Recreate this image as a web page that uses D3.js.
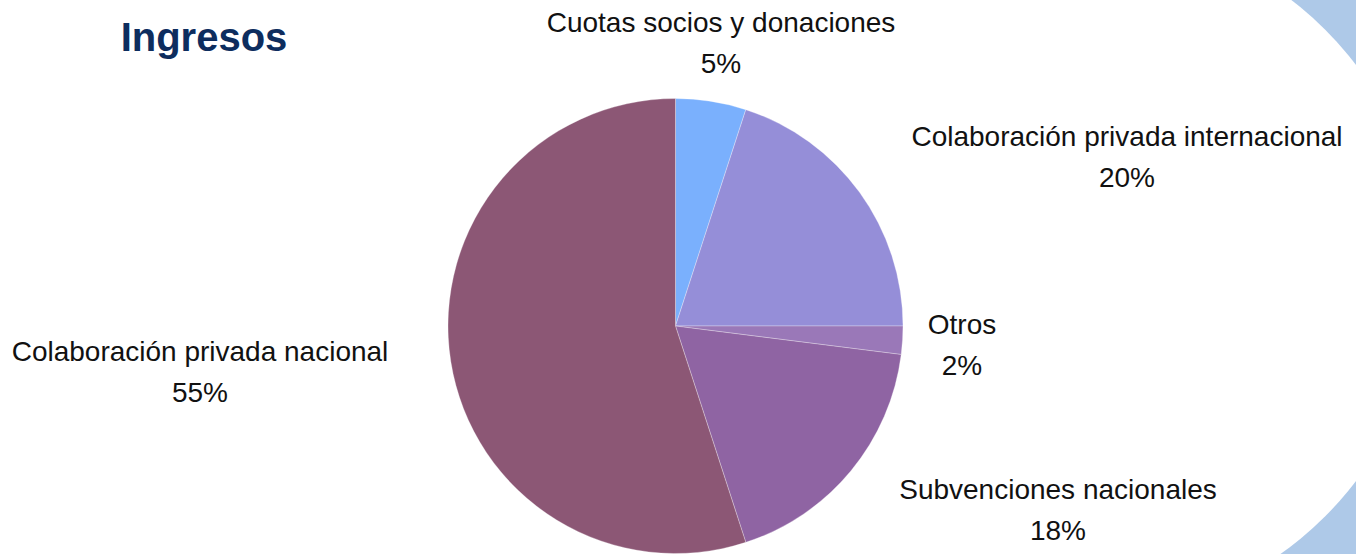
<!DOCTYPE html>
<html>
<head>
<meta charset="utf-8">
<script src="https://cdn.jsdelivr.net/npm/d3@7"></script>
<style>
  body { margin: 0; background: #fff; }
  svg { display: block; font-family: "Liberation Sans", Arial, sans-serif; }
</style>
</head>
<body>
<div class="canvas"></div>
<script>
// data
const categories = ['Cuotas socios y donaciones', 'Colaboración privada internacional', 'Otros',
  'Subvenciones nacionales', 'Colaboración privada nacional'];
const values = [5, 20, 2, 18, 55];
const colors = ['#7ab0fd', '#958ed8', '#9a78b8', '#8f64a3', '#8c5775'];

// label centres placed by hand, like the original slide
const labelPos = [[721, 43], [1127, 157], [962, 345], [1058, 510], [200, 372]];

const width = 1356, height = 554;
const cx = 675.5, cy = 326, radius = 227.5;

const svg = d3.select('.canvas')
  .append('svg')
    .attr('width', width)
    .attr('height', height);

// light blue decoration round the right edge
const deco = svg.append('g');
deco.append('rect')
  .attr('x', 1000).attr('y', 0)
  .attr('width', width - 1000).attr('height', height)
  .attr('fill', '#aec9e8');
deco.append('circle')
  .attr('cx', 1082).attr('cy', 273).attr('r', 344)
  .attr('fill', '#fff');

// title
svg.append('text')
  .attr('x', 204).attr('y', 51)
  .attr('text-anchor', 'middle')
  .attr('font-size', 40)
  .attr('font-weight', 'bold')
  .attr('fill', '#0d2d5e')
  .text('Ingresos');

const pie = d3.pie().sort(null).value(d => d);
const arc = d3.arc().innerRadius(0).outerRadius(radius);
const arcs = pie(values);

const graph = svg.append('g')
  .attr('transform', `translate(${cx},${cy})`);

graph.selectAll('path')
  .data(arcs)
  .enter()
  .append('path')
    .attr('d', arc)
    .attr('fill', (d, i) => colors[i])
    .attr('stroke', '#fff')
    .attr('stroke-width', 0.3);

// labels
const total = d3.sum(values);
const labels = svg.selectAll('.lbl')
  .data(arcs)
  .enter()
  .append('text')
    .attr('class', 'lbl')
    .attr('text-anchor', 'middle')
    .attr('font-size', 28)
    .attr('fill', '#111');

labels.append('tspan')
  .attr('x', (d, i) => labelPos[i][0])
  .attr('y', (d, i) => labelPos[i][1] - 11)
  .text((d, i) => categories[i]);

labels.append('tspan')
  .attr('x', (d, i) => labelPos[i][0])
  .attr('y', (d, i) => labelPos[i][1] + 30)
  .text(d => Math.round(d.value / total * 100) + '%');
</script>
</body>
</html>
